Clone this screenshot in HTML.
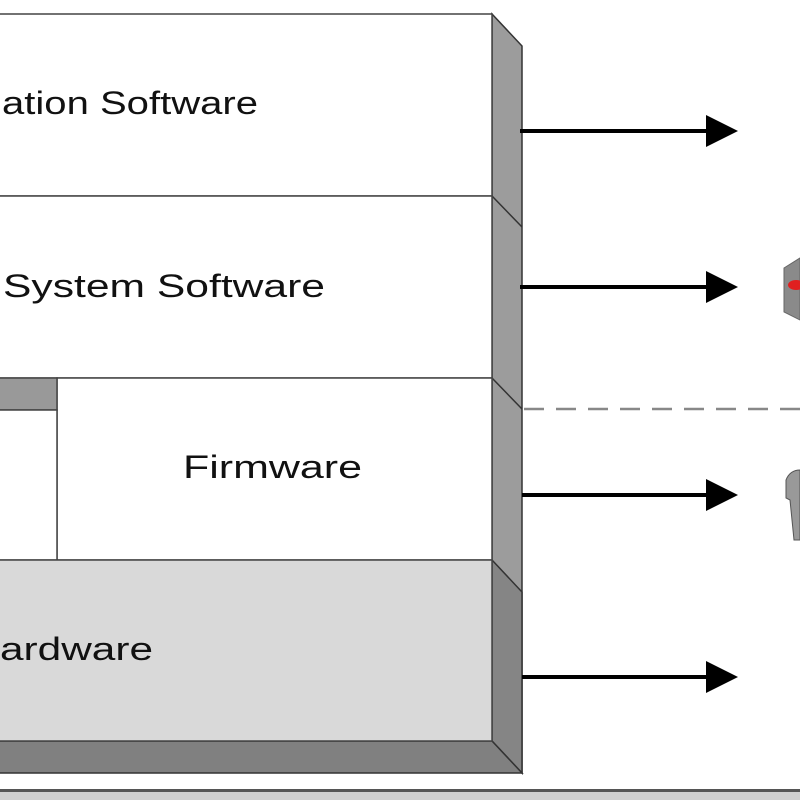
<!DOCTYPE html>
<html><head><style>html,body{margin:0;padding:0;background:#fff;width:800px;height:800px;overflow:hidden}</style></head>
<body>
<svg width="800" height="800" viewBox="0 0 800 800" xmlns="http://www.w3.org/2000/svg" font-family="Liberation Sans, Arial, sans-serif">
<defs><marker id="ah" markerWidth="10" markerHeight="10" refX="0" refY="5" orient="auto" markerUnits="userSpaceOnUse"><path d="M0,0 L0,0"/></marker></defs>
<!-- side faces -->
<polygon points="492,14 522,46 522,773 492,741" fill="#9c9c9c" stroke="#333" stroke-width="1.5"/>
<polygon points="492,560 522,592 522,773 492,741" fill="#858585" stroke="#333" stroke-width="1.5"/>
<line x1="492" y1="196" x2="522" y2="227" stroke="#333" stroke-width="1.5"/>
<line x1="492" y1="378" x2="522" y2="409" stroke="#333" stroke-width="1.5"/>
<!-- bottom face -->
<polygon points="-5,741 492,741 522,773 -5,773" fill="#808080" stroke="#333" stroke-width="1.5"/>
<!-- front boxes -->
<rect x="-5" y="14" width="497" height="182" fill="#fff" stroke="#444" stroke-width="1.5"/>
<rect x="-5" y="196" width="497" height="182" fill="#fff" stroke="#444" stroke-width="1.5"/>
<rect x="57" y="378" width="435" height="182" fill="#fff" stroke="#444" stroke-width="1.5"/>
<rect x="-5" y="378" width="62" height="32" fill="#999" stroke="#444" stroke-width="1.5"/>
<rect x="-5" y="410" width="62" height="150" fill="#fff" stroke="#444" stroke-width="1.5"/>
<rect x="-5" y="560" width="497" height="181" fill="#d9d9d9" stroke="#444" stroke-width="1.5"/>
<!-- text -->
<text x="2" y="114" font-size="32" textLength="256" lengthAdjust="spacingAndGlyphs" fill="#111">ation Software</text>
<text x="3" y="297" font-size="32" textLength="322" lengthAdjust="spacingAndGlyphs" fill="#111">System Software</text>
<text x="183" y="478" font-size="32" textLength="179" lengthAdjust="spacingAndGlyphs" fill="#111">Firmware</text>
<text x="0" y="660" font-size="32" textLength="153" lengthAdjust="spacingAndGlyphs" fill="#111">ardware</text>
<!-- arrows -->
<g stroke="#000" stroke-width="4">
<line x1="520" y1="131" x2="712" y2="131"/>
<line x1="520" y1="287" x2="712" y2="287"/>
<line x1="522" y1="495" x2="712" y2="495"/>
<line x1="522" y1="677" x2="712" y2="677"/>
</g>
<g fill="#000">
<polygon points="706,115 738,131 706,147"/>
<polygon points="706,271 738,287 706,303"/>
<polygon points="706,479 738,495 706,511"/>
<polygon points="706,661 738,677 706,693"/>
</g>
<line x1="524" y1="409" x2="800" y2="409" stroke="#888" stroke-width="2.5" stroke-dasharray="20,12"/>
<!-- icons -->
<polygon points="784,268 800,258 800,320 784,312" fill="#8a8a8a" stroke="#666"/>
<ellipse cx="796" cy="285" rx="8" ry="5" fill="#e02020"/>
<path d="M786,480 Q790,470 800,470 L800,540 L794,540 L790,500 L786,498 Z" fill="#999" stroke="#555"/>
<!-- bottom frame -->
<rect x="0" y="789" width="800" height="3" fill="#555"/>
<rect x="0" y="792" width="800" height="8" fill="#cfcfcf"/>
</svg>
</body></html>
